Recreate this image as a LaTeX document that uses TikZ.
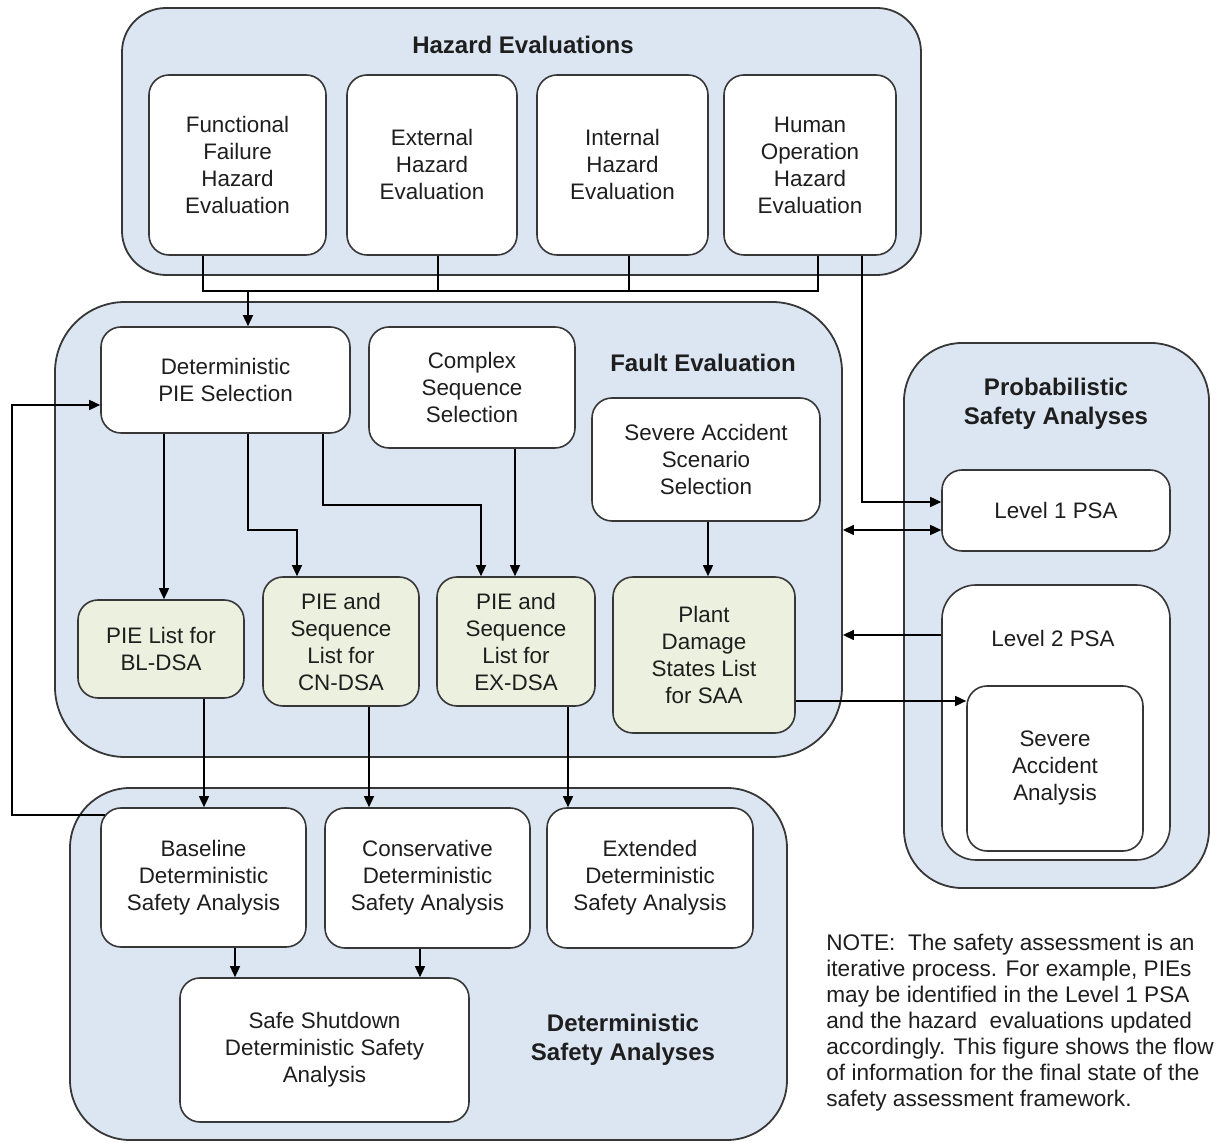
\documentclass[tikz,border=0pt]{standalone}
\usepackage{fontspec}
\setmainfont{Liberation Sans}
\usetikzlibrary{arrows.meta}

\definecolor{contblue}{RGB}{220,230,242}
\definecolor{listgreen}{RGB}{235,241,222}
\definecolor{edgegray}{RGB}{55,55,55}
\definecolor{txtgray}{RGB}{30,30,30}

\begin{document}
\begin{tikzpicture}[x=0.5pt,y=-0.5pt,
    cont/.style={draw=edgegray, fill=contblue, line width=0.9pt, rounded corners=#1, inner sep=0pt},
    box/.style={draw=edgegray, fill=white, line width=0.8pt, rounded corners=10pt, align=center,
        inner sep=2pt, text=txtgray, font=\fontsize{11.2}{13.5}\selectfont},
    listbox/.style={box, fill=listgreen},
    grouptitle/.style={align=center, text=txtgray, font=\bfseries\fontsize{12}{14.5}\selectfont},
    link/.style={draw=black, line width=0.7pt},
    arr/.style={link, -{Triangle[length=5.5pt,width=5pt]}},
    arr2/.style={link, {Triangle[length=5.5pt,width=5pt]}-{Triangle[length=5.5pt,width=5pt]}}]

    \useasboundingbox (0,0) rectangle (1221,1143);

    % group containers
    \node[cont=22pt, minimum width=399.5pt, minimum height=133.5pt] (hazcont) at (521.5,141.5) {};
    \node[cont=35pt, minimum width=393.5pt, minimum height=227.5pt] (faultcont) at (448.5,529.5) {};
    \node[cont=29pt, minimum width=152.5pt, minimum height=272.5pt] (probcont) at (1056.5,615.5) {};
    \node[cont=30pt, minimum width=358.5pt, minimum height=176pt] (detcont) at (428.5,964) {};

    \node[grouptitle] (haztitle) at (523,45) {Hazard Evaluations};
    \node[grouptitle] (faulttitle) at (703,363) {Fault Evaluation};
    \node[grouptitle] (probtitle) at (1056,404) {Probabilistic\\Safety Analyses};
    \node[grouptitle] (dettitle) at (623,1040) {Deterministic\\Safety Analyses};

    % hazard evaluations
    \node[box, minimum width=88.5pt, minimum height=90pt] (funcbox) at (237.5,165) {Functional\\Failure\\Hazard\\Evaluation};
    \node[box, minimum width=85pt, minimum height=90pt] (extbox) at (432,165) {External\\Hazard\\Evaluation};
    \node[box, minimum width=85.5pt, minimum height=90pt] (intbox) at (622.5,165) {Internal\\Hazard\\Evaluation};
    \node[box, minimum width=86pt, minimum height=90pt] (humbox) at (810,165) {Human\\Operation\\Hazard\\Evaluation};

    % fault evaluation
    \node[box, minimum width=124.5pt, minimum height=53pt] (detbox) at (225.5,380) {Deterministic\\PIE Selection};
    \node[box, minimum width=103pt, minimum height=60.5pt] (cplxbox) at (472,387.5) {Complex\\Sequence\\Selection};
    \node[box, minimum width=114pt, minimum height=61.5pt, text depth=-4pt] (sevbox) at (706,459.5) {Severe Accident\\Scenario\\Selection};
    \node[listbox, minimum width=83pt, minimum height=49pt] (blbox) at (161,649) {PIE List for\\BL-DSA};
    \node[listbox, minimum width=78pt, minimum height=64.5pt] (cnbox) at (341,641.5) {PIE and\\Sequence\\List for\\CN-DSA};
    \node[listbox, minimum width=79pt, minimum height=64.5pt] (exbox) at (516,641.5) {PIE and\\Sequence\\List for\\EX-DSA};
    \node[listbox, minimum width=91pt, minimum height=78pt] (pdsbox) at (704,655) {Plant\\Damage\\States List\\for SAA};

    % probabilistic safety analyses
    \node[box, minimum width=114pt, minimum height=40.5pt] (lv1box) at (1056,510.5) {Level 1 PSA};
    \node[box, rounded corners=17pt, minimum width=114pt, minimum height=137.5pt] (lv2box) at (1056,722.5) {};
    \node[text=txtgray, font=\fontsize{11.2}{13.5}\selectfont] (lv2label) at (1053,638) {Level 2 PSA};
    \node[box, minimum width=88pt, minimum height=82.5pt] (saabox) at (1055,768.5) {Severe\\Accident\\Analysis};

    % deterministic safety analyses
    \node[box, minimum width=102.5pt, minimum height=69.5pt] (basebox) at (203.5,877.5) {Baseline\\Deterministic\\Safety Analysis};
    \node[box, minimum width=102.5pt, minimum height=70pt] (consbox) at (427.5,878) {Conservative\\Deterministic\\Safety Analysis};
    \node[box, minimum width=103pt, minimum height=70pt] (extdbox) at (650,878) {Extended\\Deterministic\\Safety Analysis};
    \node[box, minimum width=144.5pt, minimum height=72pt] (ssbox) at (324.5,1050) {Safe Shutdown\\Deterministic Safety\\Analysis};

    % hazard collector
    \coordinate (busf) at (203,291);
    \coordinate (buse) at (438,291);
    \coordinate (busi) at (629,291);
    \coordinate (bush) at (818,291);
    \coordinate (busdown) at (248,291);
    \draw[link] (funcbox.south -| busf) -- (busf) -- (bush) -- (humbox.south -| bush);
    \draw[link] (extbox.south -| buse) -- (buse);
    \draw[link] (intbox.south -| busi) -- (busi);
    \draw[arr] (busdown) -- (detbox.north -| busdown);

    % hazard evaluations to level 1 psa
    \coordinate (humturn) at (862,502);
    \draw[arr] (humbox.south -| humturn) -- (humturn) -- (lv1box.west |- humturn);

    % inside fault evaluation
    \coordinate (cnturn) at (297,530);
    \coordinate (exturn) at (481,505);
    \draw[arr] (detbox.south -| 164,0) -- (blbox.north -| 164,0);
    \draw[arr] (detbox.south -| 248,0) |- (cnturn) -- (cnbox.north -| cnturn);
    \draw[arr] (detbox.south -| 323,0) |- (exturn) -- (exbox.north -| exturn);
    \draw[arr] (cplxbox.south -| 515,0) -- (exbox.north -| 515,0);
    \draw[arr] (sevbox.south -| 708,0) -- (pdsbox.north -| 708,0);

    % fault evaluation and psa
    \coordinate (lv1link) at (942,530);
    \coordinate (lv2link) at (942,635);
    \coordinate (saalink) at (967,701);
    \draw[arr2] (faultcont.east |- lv1link) -- (lv1box.west |- lv1link);
    \draw[arr] (lv2box.west |- lv2link) -- (faultcont.east |- lv2link);
    \draw[arr] (pdsbox.east |- saalink) -- (saabox.west |- saalink);

    % lists to deterministic analyses
    \draw[arr] (blbox.south -| 204,0) -- (basebox.north -| 204,0);
    \draw[arr] (cnbox.south -| 369,0) -- (consbox.north -| 369,0);
    \draw[arr] (exbox.south -| 568,0) -- (extdbox.north -| 568,0);
    \draw[arr] (basebox.south -| 235,0) -- (ssbox.north -| 235,0);
    \draw[arr] (consbox.south -| 420,0) -- (ssbox.north -| 420,0);

    % feedback loop
    \coordinate (loopstart) at (105,815);
    \coordinate (loopcorner) at (12,815);
    \draw[arr] (loopstart) -- (loopcorner) |- (detbox.west |- 0,405);

    % note
    \node[anchor=north west, align=left, inner sep=0pt, text=txtgray,
        font=\fontsize{11.3}{13}\selectfont] (note) at (826,934)
        {NOTE: \ The safety assessment is an\\
         iterative process. For example, PIEs\\
         may be identified in the Level 1 PSA\\
         and the hazard \ evaluations updated\\
         accordingly. This figure shows the flow\\
         of information for the final state of the\\
         safety assessment framework.};
\end{tikzpicture}
\end{document}
